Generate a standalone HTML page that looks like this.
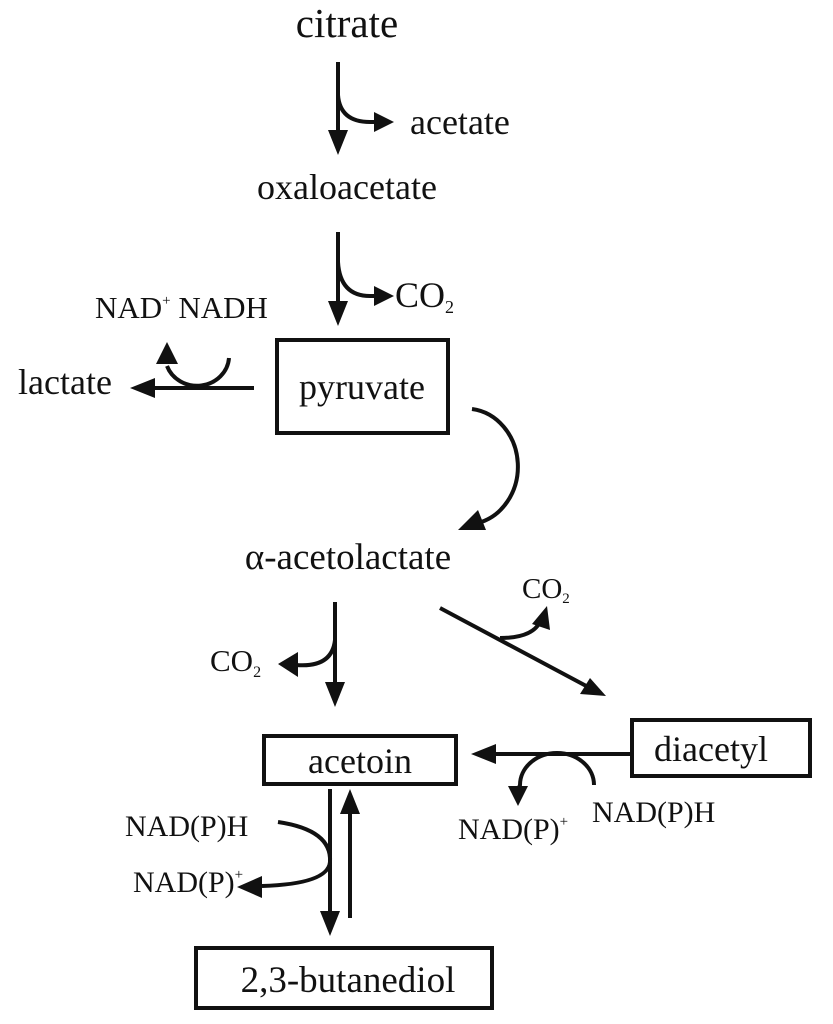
<!DOCTYPE html>
<html><head><meta charset="utf-8"><style>
html,body{margin:0;padding:0;background:#fff}
svg{display:block}
text{font-family:"Liberation Serif",serif;fill:#111}
</style></head><body>
<svg width="833" height="1024" viewBox="0 0 833 1024" xmlns="http://www.w3.org/2000/svg">
<g stroke="#111" stroke-width="4" fill="none">
<line x1="338" y1="62" x2="338" y2="132"/>
<path d="M338 95 Q340 122 370 122 L378 122"/>
<line x1="338" y1="232" x2="338" y2="303"/>
<path d="M338 262 Q340 296 370 296 L378 296"/>
<line x1="254" y1="388" x2="150" y2="388"/>
<path d="M229 358 A32 30 0 0 1 167 366"/>
<path d="M472 409 A52 58 0 0 1 478 523"/>
<line x1="335" y1="602" x2="335" y2="685"/>
<path d="M335 640 Q332 668 296 665"/>
<line x1="440" y1="608" x2="590" y2="688"/>
<path d="M500 638 Q532 638 540 622"/>
<line x1="630" y1="754" x2="492" y2="754"/>
<path d="M594 785 A37 32 0 0 0 520 785 L518 790"/>
<line x1="330" y1="789" x2="330" y2="912"/>
<line x1="350" y1="918" x2="350" y2="812"/>
<path d="M278 822 Q332 830 330 862 Q328 884 262 886"/>
</g>
<g fill="#111" stroke="none">
<polygon points="394,122 374,112 374,132"/>
<polygon points="338,155 328,130 348,130"/>
<polygon points="394,296 374,286 374,306"/>
<polygon points="338,326 328,301 348,301"/>
<polygon points="130,388 155,378 155,398"/>
<polygon points="167,342 156,364 178,364"/>
<polygon points="458,530 478,510 486,530"/>
<polygon points="335,707 325,682 345,682"/>
<polygon points="278,664 298,652 298,677"/>
<polygon points="606,696 580,694 590,678"/>
<polygon points="547,606 532,624 550,630"/>
<polygon points="471,754 496,744 496,764"/>
<polygon points="518,806 508,786 528,786"/>
<polygon points="330,936 320,911 340,911"/>
<polygon points="350,789 340,814 360,814"/>
<polygon points="237,887 262,876 262,898"/>
</g>
<g fill="none" stroke="#111" stroke-width="4">
<rect x="277" y="340" width="171" height="93"/>
<rect x="264" y="736" width="192" height="48"/>
<rect x="632" y="720" width="178" height="56"/>
<rect x="196" y="948" width="296" height="60"/>
</g>
<text x="347" y="37" font-size="41" text-anchor="middle">citrate</text>
<text x="410" y="134" font-size="36">acetate</text>
<text x="347" y="199" font-size="36" text-anchor="middle">oxaloacetate</text>
<text x="395" y="307" font-size="36">CO<tspan font-size="18" dy="6">2</tspan></text>
<text x="95" y="318" font-size="31">NAD<tspan font-size="15" dy="-13">+</tspan><tspan dy="13"> NADH</tspan></text>
<text x="18" y="394" font-size="36">lactate</text>
<text x="362" y="399" font-size="36" text-anchor="middle">pyruvate</text>
<text x="348" y="569" font-size="37" text-anchor="middle">α-acetolactate</text>
<text x="522" y="598" font-size="29">CO<tspan font-size="15" dy="5">2</tspan></text>
<text x="210" y="671" font-size="31">CO<tspan font-size="16" dy="6">2</tspan></text>
<text x="360" y="773" font-size="36" text-anchor="middle">acetoin</text>
<text x="711" y="761" font-size="36" text-anchor="middle">diacetyl</text>
<text x="592" y="822" font-size="30">NAD(P)H</text>
<text x="458" y="839" font-size="30">NAD(P)<tspan font-size="15" dy="-13">+</tspan></text>
<text x="125" y="836" font-size="30">NAD(P)H</text>
<text x="133" y="892" font-size="30">NAD(P)<tspan font-size="15" dy="-13">+</tspan></text>
<text x="348" y="992" font-size="37" text-anchor="middle">2,3-butanediol</text>
</svg>
</body></html>
